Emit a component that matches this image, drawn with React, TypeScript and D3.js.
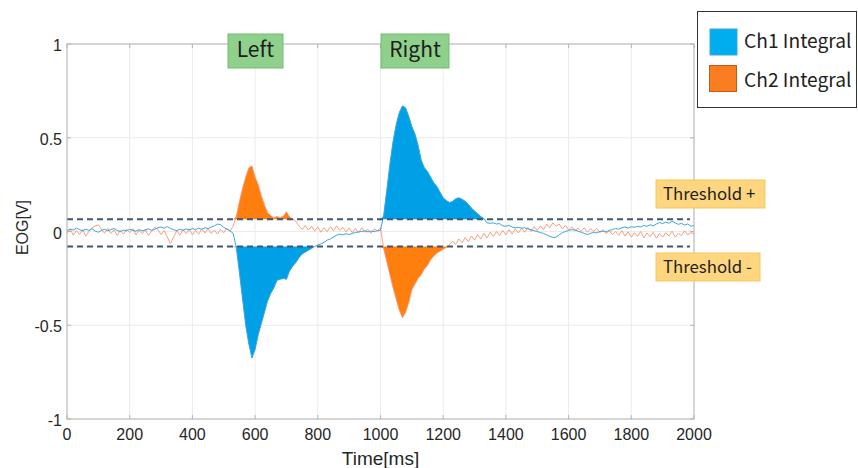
import React from 'react';
import * as d3 from 'd3';

// ---- data (sampled every 10 ms, 0..2000 ms) ----
const sampleStepMs = 10;

const ch1Values: number[] = [
  0.005, 0.012, 0.008, 0.018, 0.010, 0.004, 0.012, 0.006, 0.015, 0.002,
  -0.004, 0.006, 0.012, 0.004, 0.010, 0.016, 0.006, 0.000, 0.008, 0.004,
  0.012, 0.006, 0.002, 0.010, 0.004, 0.008, 0.014, 0.006, 0.012, 0.020,
  0.024, 0.018, 0.026, 0.016, 0.010, 0.004, 0.012, 0.006, 0.014, 0.008,
  0.016, 0.010, 0.018, 0.012, 0.020, 0.016, 0.024, 0.030, 0.040, 0.036,
  0.022, 0.012, 0.004, -0.010, -0.085, -0.22, -0.36, -0.50, -0.60, -0.675,
  -0.63, -0.55, -0.49, -0.43, -0.37, -0.33, -0.30, -0.26, -0.255, -0.25,
  -0.255, -0.21, -0.185, -0.165, -0.14, -0.12, -0.11, -0.10, -0.09, -0.08,
  -0.072, -0.066, -0.058, -0.046, -0.040, -0.030, -0.020, -0.014, -0.018, -0.012,
  -0.016, -0.010, -0.006, -0.002, 0.000, 0.004, -0.002, 0.002, 0.000, 0.004,
  0.006, 0.085, 0.22, 0.36, 0.48, 0.57, 0.635, 0.67, 0.66, 0.615,
  0.56, 0.52, 0.46, 0.38, 0.34, 0.32, 0.29, 0.26, 0.24, 0.21,
  0.18, 0.165, 0.155, 0.16, 0.175, 0.18, 0.172, 0.162, 0.145, 0.125,
  0.11, 0.095, 0.08, 0.068, 0.046, 0.044, 0.046, 0.040, 0.042, 0.030,
  0.028, 0.032, 0.024, 0.020, 0.022, 0.018, 0.020, 0.014, 0.010, 0.004,
  0.000, -0.006, -0.010, -0.018, -0.026, -0.032, -0.030, -0.018, -0.006, 0.000,
  0.006, 0.010, 0.008, 0.002, -0.004, -0.010, -0.016, -0.010, -0.004, -0.008,
  0.000, 0.002, -0.002, 0.006, 0.010, 0.016, 0.012, 0.020, 0.024, 0.018,
  0.026, 0.022, 0.028, 0.024, 0.032, 0.028, 0.036, 0.030, 0.040, 0.048,
  0.042, 0.050, 0.044, 0.055, 0.046, 0.038, 0.044, 0.034, 0.040, 0.028,
  0.032,
];

const ch2Values: number[] = [
  -0.010, 0.015, -0.020, 0.005, -0.015, 0.010, -0.025, 0.000, 0.020, 0.030,
  0.036, 0.012, -0.010, 0.018, -0.012, 0.008, -0.020, 0.004, -0.014, 0.012,
  -0.006, 0.016, -0.018, 0.006, -0.012, 0.010, -0.022, 0.002, 0.024, 0.010,
  -0.016, 0.006, -0.030, -0.065, -0.030, 0.004, -0.020, 0.010, -0.012, 0.014,
  -0.018, 0.006, -0.014, 0.012, -0.008, 0.016, -0.010, 0.008, -0.014, 0.012,
  -0.006, 0.018, 0.000, 0.030, 0.080, 0.16, 0.23, 0.29, 0.34, 0.35,
  0.29, 0.25, 0.19, 0.14, 0.10, 0.085, 0.072, 0.080, 0.074, 0.082,
  0.105, 0.078, 0.066, 0.055, 0.030, 0.010, 0.032, 0.008, 0.028, 0.002,
  0.024, -0.004, 0.020, 0.000, 0.026, 0.004, 0.030, 0.006, 0.022, -0.002,
  0.018, -0.006, 0.016, -0.008, 0.020, -0.004, 0.012, -0.010, 0.014, 0.004,
  0.020, -0.09, -0.16, -0.23, -0.30, -0.36, -0.42, -0.46, -0.43, -0.38,
  -0.31, -0.28, -0.25, -0.23, -0.20, -0.18, -0.15, -0.13, -0.115, -0.105,
  -0.095, -0.085, -0.070, -0.052, -0.068, -0.040, -0.060, -0.032, -0.054, -0.024,
  -0.046, -0.016, -0.040, -0.010, -0.034, -0.004, -0.028, 0.000, -0.022, 0.006,
  -0.018, 0.010, -0.014, 0.014, -0.008, 0.018, -0.004, 0.022, 0.000, 0.026,
  0.006, 0.030, 0.010, 0.040, 0.020, 0.046, 0.028, 0.040, 0.014, 0.034,
  0.008, 0.026, 0.004, 0.018, 0.000, 0.020, -0.004, 0.014, 0.002, 0.016,
  -0.006, 0.010, -0.012, 0.006, -0.016, 0.000, -0.020, 0.004, -0.024, -0.002,
  -0.030, -0.006, -0.026, 0.000, -0.034, -0.008, -0.028, -0.004, -0.036, -0.010,
  -0.030, -0.006, -0.024, 0.002, -0.030, -0.010, -0.022, 0.004, -0.018, -0.006,
  -0.012,
];

const thresholdPlus = 0.065;
const thresholdMinus = -0.08;

const xTicks = [0, 200, 400, 600, 800, 1000, 1200, 1400, 1600, 1800, 2000];
const yTicks = [-1, -0.5, 0, 0.5, 1];
const yTickLabels = ['-1', '-0.5', '0', '0.5', '1'];

const xLabel = 'Time[ms]';
const yLabel = 'EOG[V]';
const seriesNames = ['Ch1 Integral', 'Ch2 Integral'];
const eventLabels = ['Left', 'Right'];
const thresholdLabels = ['Threshold +', 'Threshold -'];

// ---- layout / style ----
const W = 858;
const H = 468;
const M = { left: 67, right: 694, top: 44, bottom: 419 };
const fillBlue = '#00a0e6';
const fillOrange = '#ff7f0e';
const lineBlue = '#3aa5dc';
const lineOrange = '#f89574';
const axisFont = '"Liberation Sans", Arial, sans-serif';
const jpFont = '"Noto Sans CJK JP", "Noto Sans", sans-serif';

export default function App() {
  const x = d3.scaleLinear().domain([0, 2000]).range([M.left, M.right]);
  const y = d3.scaleLinear().domain([-1, 1]).range([M.bottom, M.top]);

  const times = ch1Values.map((_, i) => i * sampleStepMs);
  const d1 = times.map((t, i) => ({ t, v: ch1Values[i] }));
  const d2 = times.map((t, i) => ({ t, v: ch2Values[i] }));

  const posArea = d3
    .area<{ t: number; v: number }>()
    .x((d) => x(d.t))
    .y0(y(thresholdPlus))
    .y1((d) => y(Math.max(d.v, thresholdPlus)));
  const negArea = d3
    .area<{ t: number; v: number }>()
    .x((d) => x(d.t))
    .y0(y(thresholdMinus))
    .y1((d) => y(Math.min(d.v, thresholdMinus)));
  const line = d3
    .line<{ t: number; v: number }>()
    .x((d) => x(d.t))
    .y((d) => y(d.v));

  const tickLen = 4;
  const eventBoxes = [
    { cx: 255.5, w: 55 },
    { cx: 415, w: 68 },
  ];
  const thresholdBoxes = [
    { y: 180, w: 109 },
    { y: 253, w: 104 },
  ];

  return (
    <svg
      width={W}
      height={H}
      style={{ position: 'absolute', left: 0, top: 0, background: '#fff' }}
    >
      <rect x={0} y={0} width={W} height={H} fill="#fff" />
      {/* grid */}
      {xTicks.map((t) => (
        <line key={'gx' + t} x1={x(t)} x2={x(t)} y1={M.top} y2={M.bottom} stroke="#ebebeb" strokeWidth={1} />
      ))}
      {yTicks.map((t) => (
        <line key={'gy' + t} x1={M.left} x2={M.right} y1={y(t)} y2={y(t)} stroke="#ebebeb" strokeWidth={1} />
      ))}

      {/* fills */}
      <path d={posArea(d1) || ''} fill={fillBlue} />
      <path d={negArea(d1) || ''} fill={fillBlue} />
      <path d={posArea(d2) || ''} fill={fillOrange} />
      <path d={negArea(d2) || ''} fill={fillOrange} />

      {/* lines */}
      <path d={line(d2) || ''} fill="none" stroke={lineOrange} strokeWidth={1} strokeOpacity={0.9} />
      <path d={line(d1) || ''} fill="none" stroke={lineBlue} strokeWidth={1} />

      {/* thresholds */}
      {[thresholdPlus, thresholdMinus].map((th) => (
        <line
          key={'th' + th}
          x1={x(0)}
          x2={x(2000) - 4}
          y1={y(th)}
          y2={y(th)}
          stroke="#3e5671"
          strokeWidth={2}
          strokeDasharray="6,4"
        />
      ))}

      {/* axes box */}
      <rect x={M.left} y={M.top} width={M.right - M.left} height={M.bottom - M.top} fill="none" stroke="#b5b5b5" strokeWidth={1} />
      {xTicks.map((t) => (
        <g key={'tx' + t}>
          <line x1={x(t)} x2={x(t)} y1={M.bottom} y2={M.bottom - tickLen} stroke="#b5b5b5" />
          <line x1={x(t)} x2={x(t)} y1={M.top} y2={M.top + tickLen} stroke="#b5b5b5" />
          <text x={x(t)} y={440} textAnchor="middle" fontFamily={axisFont} fontSize={16} fill="#262626">
            {t}
          </text>
        </g>
      ))}
      {yTicks.map((t, i) => (
        <g key={'ty' + t}>
          <line x1={M.left} x2={M.left + tickLen} y1={y(t)} y2={y(t)} stroke="#b5b5b5" />
          <line x1={M.right} x2={M.right - tickLen} y1={y(t)} y2={y(t)} stroke="#b5b5b5" />
          <text x={62} y={y(t) + 7} textAnchor="end" fontFamily={axisFont} fontSize={16} fill="#262626">
            {yTickLabels[i]}
          </text>
        </g>
      ))}
      <text x={(M.left + M.right) / 2} y={465} textAnchor="middle" fontFamily={axisFont} fontSize={19} fill="#262626">
        {xLabel}
      </text>
      <text
        transform={`translate(28, ${(M.top + M.bottom) / 2 - 4}) rotate(-90)`}
        textAnchor="middle"
        fontFamily={axisFont}
        fontSize={16}
        fill="#262626"
      >
        {yLabel}
      </text>

      {/* event labels */}
      {eventLabels.map((label, i) => {
        const b = eventBoxes[i];
        return (
          <g key={label}>
            <rect x={b.cx - b.w / 2} y={34} width={b.w} height={34} fill="#8fd08c" stroke="#73bd70" strokeWidth={1} />
            <text x={b.cx} y={57} textAnchor="middle" fontFamily={jpFont} fontSize={21} fill="#1e1e1e">
              {label}
            </text>
          </g>
        );
      })}

      {/* threshold labels */}
      {thresholdLabels.map((label, i) => {
        const b = thresholdBoxes[i];
        return (
          <g key={label}>
            <rect x={656} y={b.y} width={b.w} height={28} fill="#fed680" stroke="#f7c45c" strokeWidth={1} />
            <text x={663} y={b.y + 19.5} fontFamily={jpFont} fontSize={16.8} fill="#1e1e1e">
              {label}
            </text>
          </g>
        );
      })}

      {/* legend */}
      <rect x={697.5} y={11.5} width={159} height={96} fill="#fff" stroke="#333" strokeWidth={1} />
      <rect x={710} y={29} width={27} height={26} fill="#00aeef" stroke="#41a7d6" strokeWidth={1} />
      <text x={744} y={48} fontFamily={jpFont} fontSize={19.2} fill="#1e1e1e">{seriesNames[0]}</text>
      <rect x={709.5} y={65.5} width={27} height={26} fill="#fb7d22" stroke="#c65b14" strokeWidth={1} />
      <text x={744} y={86.5} fontFamily={jpFont} fontSize={19.2} fill="#1e1e1e">{seriesNames[1]}</text>
    </svg>
  );
}
